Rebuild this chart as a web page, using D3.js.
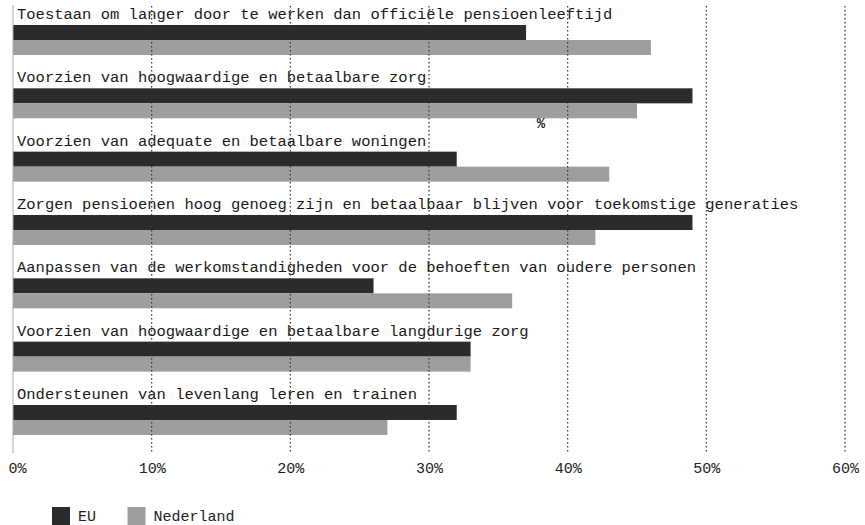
<!DOCTYPE html>
<html>
<head>
<meta charset="utf-8">
<script src="https://cdn.jsdelivr.net/npm/d3@7"></script>
<style>
  html, body { margin: 0; padding: 0; background: #fff; }
  svg { display: block; font-family: "Liberation Mono", "DejaVu Sans Mono", monospace; }
</style>
</head>
<body>
<svg id="chart" width="865" height="525"></svg>
<script>
const categories = [
  "Toestaan om langer door te werken dan officiële pensioenleeftijd",
  "Voorzien van hoogwaardige en betaalbare zorg",
  "Voorzien van adequate en betaalbare woningen",
  "Zorgen pensioenen hoog genoeg zijn en betaalbaar blijven voor toekomstige generaties",
  "Aanpassen van de werkomstandigheden voor de behoeften van oudere personen",
  "Voorzien van hoogwaardige en betaalbare langdurige zorg",
  "Ondersteunen van levenlang leren en trainen"
];
const seriesNames = ["EU", "Nederland"];
const euValues = [37, 49, 32, 49, 26, 33, 32];
const nlValues = [46, 45, 43, 42, 36, 33, 27];
const tickValues = [0, 10, 20, 30, 40, 50, 60];
const colors = { "EU": "#2b2b2b", "Nederland": "#9e9e9e" };

const svg = d3.select("#chart");

const x = d3.scaleLinear().domain([0, 60]).range([13, 845]);
const rowH = 63.33;
const y = d3.scaleBand().domain(categories).range([0, rowH * categories.length]).padding(0);
const ySub = d3.scaleBand().domain(seriesNames).range([25, 55]).padding(0);

const data = categories.map((c, i) => ({ cat: c, EU: euValues[i], Nederland: nlValues[i] }));

// rows
const rows = svg.append("g").selectAll("g.row").data(data).join("g")
  .attr("class", "row")
  .attr("transform", d => `translate(0,${y(d.cat)})`);

rows.selectAll("rect").data(d => seriesNames.map(s => ({ s, v: d[s] }))).join("rect")
  .attr("x", x(0))
  .attr("y", d => ySub(d.s))
  .attr("width", d => x(d.v) - x(0))
  .attr("height", ySub.bandwidth())
  .attr("fill", d => colors[d.s]);

rows.append("text")
  .attr("x", x(0) + 4)
  .attr("y", 19)
  .attr("font-size", "15.5px")
  .attr("fill", "#1a1a1a")
  .text(d => d.cat);

// grid lines (on top)
const grid = svg.append("g");
grid.selectAll("line").data(tickValues.filter(t => t > 0)).join("line")
  .attr("x1", d => x(d)).attr("x2", d => x(d))
  .attr("y1", 6).attr("y2", 453)
  .attr("stroke", "#333")
  .attr("stroke-width", 1.2)
  .attr("stroke-dasharray", "1.5,2.5");
grid.append("line")
  .attr("x1", x(0)).attr("x2", x(0))
  .attr("y1", 5).attr("y2", 453)
  .attr("stroke", "#aaa")
  .attr("stroke-width", 1);

// x axis labels
const xAxis = d3.axisBottom(x).tickValues(tickValues).tickSize(0).tickFormat(d => d + "%");
const ax = svg.append("g").attr("transform", "translate(0,459)").call(xAxis);
ax.select(".domain").remove();
ax.selectAll("text")
  .attr("font-family", '"Liberation Mono", "DejaVu Sans Mono", monospace')
  .attr("font-size", "15px")
  .attr("fill", "#222")
  .attr("dy", "0.71em");
ax.selectAll(".tick").filter(d => d === 0).select("text").attr("dx", 4);

// stray % label
svg.append("text")
  .attr("x", 541).attr("y", 128)
  .attr("text-anchor", "middle")
  .attr("font-size", "14px")
  .attr("font-weight", "bold")
  .attr("fill", "#222")
  .text("%");

// legend
const legendX = d3.scalePoint().domain(seriesNames).range([52, 127.5]);
const lg = svg.append("g").selectAll("g").data(seriesNames).join("g")
  .attr("transform", d => `translate(${legendX(d)},507)`);
lg.append("rect").attr("width", 18).attr("height", 18).attr("fill", d => colors[d]);
lg.append("text").attr("x", 26).attr("y", 13.5)
  .attr("font-size", "15px").attr("fill", "#222").text(d => d);
</script>
</body>
</html>
